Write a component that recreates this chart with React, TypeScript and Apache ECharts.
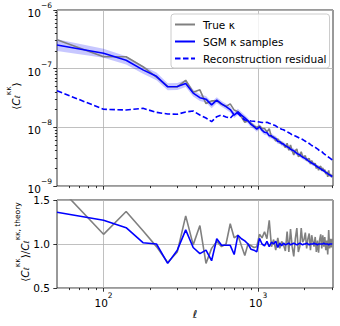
import React, { useEffect, useRef } from 'react';
import * as echarts from 'echarts';

const FONT = "'DejaVu Sans', sans-serif";

// multipole bins
const ell = [
  50, 100, 140, 180, 220, 260, 300, 340, 380, 420, 460, 500, 540, 580, 620, 660, 700, 740, 780, 820,
  860, 900, 940, 980, 1020, 1060, 1100, 1140, 1180, 1220, 1260, 1300, 1340, 1380, 1420, 1460, 1500,
  1540, 1580, 1620, 1660, 1700, 1740, 1780, 1820, 1860, 1900, 1940, 1980, 2020, 2060, 2100, 2140,
  2180, 2220, 2260, 2300, 2340, 2380, 2420, 2460, 2500, 2540, 2580, 2620, 2660, 2700, 2740, 2780,
  2820, 2860, 2900, 2940, 2980, 3020,
];

// top panel: power spectra
const trueCl = [
  3.11e-7, 1.6e-7, 1.6e-7, 1.08e-7, 7.18e-8,
  4.98e-8, 4.87e-8, 6.34e-8, 3.96e-8, 4.36e-8,
  2.54e-8, 2.82e-8, 2.82e-8, 2.47e-8, 2.28e-8,
  2.51e-8, 1.97e-8, 1.84e-8, 1.5e-8, 1.22e-8,
  1.29e-8, 1.17e-8, 1.06e-8, 9.95e-9, 1.06e-8,
  9.58e-9, 9.56e-9, 8.36e-9, 9.44e-9, 6.8e-9,
  6.96e-9, 5.84e-9, 6.38e-9, 5.38e-9, 5.55e-9,
  5.08e-9, 4.51e-9, 5.34e-9, 4.07e-9, 5.01e-9,
  3.98e-9, 3.39e-9, 4.01e-9, 4.28e-9, 3.18e-9,
  3.27e-9, 3.82e-9, 3.19e-9, 3.17e-9, 3.3e-9,
  2.68e-9, 2.88e-9, 2.96e-9, 2.37e-9, 2.72e-9,
  2.47e-9, 2.26e-9, 2.44e-9, 1.99e-9, 2.22e-9,
  1.86e-9, 2.11e-9, 2.18e-9, 1.81e-9, 2.04e-9,
  1.76e-9, 1.9e-9, 1.59e-9, 1.74e-9, 1.43e-9,
  1.84e-9, 1.47e-9, 1.61e-9, 1.42e-9, 1.54e-9,
];

const sgmCl = [
  2.53e-7, 1.83e-7, 1.39e-7, 9.54e-8, 7.4e-8,
  4.91e-8, 4.98e-8, 5.57e-8, 3.84e-8, 3.2e-8,
  3.02e-8, 2.41e-8, 2.9e-8, 2.51e-8, 2.25e-8,
  2.01e-8, 1.62e-8, 1.84e-8, 1.62e-8, 1.45e-8,
  1.29e-8, 1.12e-8, 1.03e-8, 9.34e-9, 1.02e-8,
  8.95e-9, 8.22e-9, 8.13e-9, 7.21e-9, 7.15e-9,
  6.63e-9, 6.47e-9, 5.72e-9, 5.72e-9, 5.28e-9,
  5.18e-9, 4.85e-9, 4.68e-9, 4.51e-9, 4.24e-9,
  4.1e-9, 3.98e-9, 3.78e-9, 3.59e-9, 3.49e-9,
  3.4e-9, 3.24e-9, 3.1e-9, 3.02e-9, 2.92e-9,
  2.85e-9, 2.72e-9, 2.61e-9, 2.55e-9, 2.47e-9,
  2.4e-9, 2.35e-9, 2.26e-9, 2.19e-9, 2.11e-9,
  2.07e-9, 2.01e-9, 1.96e-9, 1.91e-9, 1.85e-9,
  1.83e-9, 1.76e-9, 1.71e-9, 1.67e-9, 1.63e-9,
  1.57e-9, 1.55e-9, 1.52e-9, 1.48e-9, 1.45e-9,
];

// half-width of the SGM sample band, in decades
const sgmSpreadDex = [
  0.1, 0.075, 0.07, 0.065, 0.065,
  0.06, 0.06, 0.06, 0.06, 0.055,
  0.055, 0.055, 0.05, 0.05, 0.05,
  0.05, 0.05, 0.05, 0.05, 0.048,
  0.048, 0.047, 0.047, 0.046, 0.046,
  0.045, 0.045, 0.044, 0.044, 0.043,
  0.043, 0.042, 0.042, 0.041, 0.041,
  0.04, 0.04, 0.04, 0.039, 0.039,
  0.038, 0.038, 0.038, 0.037, 0.037,
  0.036, 0.036, 0.036, 0.035, 0.035,
  0.035, 0.034, 0.034, 0.034, 0.033,
  0.033, 0.033, 0.032, 0.032, 0.032,
  0.032, 0.031, 0.031, 0.031, 0.031,
  0.03, 0.03, 0.03, 0.03, 0.03,
  0.03, 0.029, 0.029, 0.029, 0.029,
];

const residualCl = [
  4.21e-8, 2.03e-8, 1.975e-8, 2.11e-8, 1.8e-8,
  1.69e-8, 1.67e-8, 1.83e-8, 1.9e-8, 1.62e-8,
  1.44e-8, 1.25e-8, 1.52e-8, 1.62e-8, 1.5e-8,
  1.43e-8, 1.69e-8, 1.73e-8, 1.5e-8, 1.33e-8,
  1.31e-8, 1.28e-8, 1.27e-8, 1.25e-8, 1.23e-8,
  1.21e-8, 1.2e-8, 1.22e-8, 1.17e-8, 1.14e-8,
  1.1e-8, 1.06e-8, 1.0e-8, 9.6e-9, 9.3e-9,
  9.1e-9, 8.7e-9, 8.4e-9, 8.1e-9, 7.8e-9,
  7.4e-9, 7.3e-9, 7.1e-9, 6.9e-9, 6.7e-9,
  6.5e-9, 6.4e-9, 6.2e-9, 6.0e-9, 5.8e-9,
  5.6e-9, 5.5e-9, 5.3e-9, 5.1e-9, 4.9e-9,
  4.8e-9, 4.7e-9, 4.6e-9, 4.4e-9, 4.3e-9,
  4.1e-9, 4.0e-9, 3.9e-9, 3.85e-9, 3.7e-9,
  3.55e-9, 3.45e-9, 3.35e-9, 3.25e-9, 3.18e-9,
  3.09e-9, 3.01e-9, 2.93e-9, 2.86e-9, 2.79e-9,
];

// bottom panel: ratios to theory
const ratioTrue = [
  1.67, 1.11, 1.37, 1.15, 0.97,
  0.79, 0.91, 1.32, 0.99, 1.21,
  0.78, 0.95, 1.03, 0.97, 1.0,
  1.23, 1.07, 1.1, 0.98, 0.87,
  1.0, 0.98, 0.96, 0.97, 1.11,
  1.07, 1.14, 1.06, 1.27, 0.97,
  1.05, 0.93, 1.07, 0.95, 1.03,
  0.99, 0.92, 1.14, 0.91, 1.17,
  0.97, 0.86, 1.06, 1.18, 0.91,
  0.97, 1.18, 1.02, 1.05, 1.13,
  0.95, 1.06, 1.12, 0.93, 1.1,
  1.03, 0.97, 1.08, 0.91, 1.04,
  0.9, 1.05, 1.11, 0.95, 1.1,
  0.97, 1.08, 0.93, 1.04, 0.88,
  1.16, 0.95, 1.06, 0.96, 1.06,
];

const ratioSgm = [
  1.36, 1.27, 1.185, 1.015, 1.0,
  0.78, 0.93, 1.16, 0.96, 0.89,
  0.93, 0.81, 1.06, 0.985, 0.985,
  0.985, 0.88, 1.1, 1.06, 1.035,
  1.0, 0.94, 0.93, 0.91, 1.065,
  1.0, 0.98, 1.03, 0.97, 1.02,
  1.0, 1.03, 0.96, 1.01, 0.98,
  1.01, 0.99, 1.0, 1.01, 0.99,
  1.0, 1.01, 1.0, 0.99, 1.0,
  1.01, 1.0, 0.99, 1.0, 1.0,
  1.01, 1.0, 0.99, 1.0, 1.0,
  1.0, 1.01, 1.0, 1.0, 0.99,
  1.0, 1.0, 1.0, 1.0, 1.0,
  1.01, 1.0, 1.0, 1.0, 1.0,
  0.99, 1.0, 1.0, 1.0, 1.0,
];

const xMajorTicks = [100, 1000];
const xMinorTicks = [60, 70, 80, 90, 200, 300, 400, 500, 600, 700, 800, 900, 2000, 3000];
const yMajorTicks = [1e-9, 1e-8, 1e-7, 1e-6];
const yMinorTicks = [
  2e-9, 3e-9, 4e-9, 5e-9, 6e-9, 7e-9, 8e-9, 9e-9,
  2e-8, 3e-8, 4e-8, 5e-8, 6e-8, 7e-8, 8e-8, 9e-8,
  2e-7, 3e-7, 4e-7, 5e-7, 6e-7, 7e-7, 8e-7, 9e-7,
];
const legendNames = ['True κ', 'SGM κ samples', 'Reconstruction residual'];
const topYLabel = '{a|⟨}{i|C}{sub|ℓ}{sup|κκ}{a|⟩}';
const bottomYLabel = '{a|⟨}{i|C}{sub|ℓ}{sup|κκ}{a|⟩/}{i|C}{sub|ℓ}{sup|κκ, theory}';

const BLUE = '#0000ff';
const GREY = '#808080';
const GRIDC = '#b0b0b0';
const tickLine = { color: '#000', width: 0.8 };
const splitStyle = { show: true, lineStyle: { color: GRIDC, width: 0.8 } };

function powLabel(v: number) {
  const e = Math.round(Math.log10(v));
  const s = e < 0 ? '−' + Math.abs(e) : String(e);
  return '{b|10}{s|' + s + '}';
}
const powRich = {
  b: { fontFamily: FONT, fontSize: 10.5, color: '#000', lineHeight: 17, verticalAlign: 'bottom' },
  s: { fontFamily: FONT, fontSize: 7.5, color: '#000', lineHeight: 8, verticalAlign: 'top' },
};
const nameRich = {
  a: { fontFamily: FONT, fontSize: 10.5, fill: '#000', lineHeight: 17, verticalAlign: 'bottom' },
  i: { fontFamily: FONT, fontSize: 10.5, fontStyle: 'italic', fill: '#000', lineHeight: 17, verticalAlign: 'bottom' },
  sub: { fontFamily: FONT, fontSize: 7.5, fontStyle: 'italic', fill: '#000', lineHeight: 12, verticalAlign: 'bottom' },
  sup: { fontFamily: FONT, fontSize: 7.5, fill: '#000', lineHeight: 8, verticalAlign: 'top' },
};

function xAxisPair(gridIndex: number, withLabels: boolean) {
  return [
    {
      gridIndex, type: 'log', logBase: 10, min: 50, max: 3050, position: 'bottom',
      axisLine: { show: false, onZero: false },
      axisTick: { show: true, customValues: xMajorTicks, length: 3.7, lineStyle: tickLine },
      axisLabel: withLabels
        ? { show: true, customValues: xMajorTicks, formatter: powLabel, rich: powRich, margin: 3 }
        : { show: false },
      splitLine: splitStyle,
      ...(withLabels
        ? {
            name: 'ℓ', nameLocation: 'middle', nameGap: 19,
            nameTextStyle: { fontFamily: FONT, fontSize: 11, fontStyle: 'italic', color: '#000' },
          }
        : {}),
    },
    {
      gridIndex, type: 'log', logBase: 10, min: 50, max: 3050, position: 'bottom',
      axisLine: { show: false, onZero: false },
      axisTick: { show: true, customValues: xMinorTicks, length: 2.1, lineStyle: tickLine },
      axisLabel: { show: false },
      splitLine: { show: false },
    },
  ];
}

const option: any = {
  animation: false,
  textStyle: { fontFamily: FONT },
  grid: [
    { left: 57, top: 10, width: 276, height: 176, show: true, borderColor: '#000', borderWidth: 0.8, outerBoundsMode: 'none' },
    { left: 57, top: 200, width: 276, height: 88, show: true, borderColor: '#000', borderWidth: 0.8, outerBoundsMode: 'none' },
  ],
  graphic: [
    {
      type: 'text', x: 13, y: 96, rotation: Math.PI / 2, silent: true,
      style: { text: topYLabel, rich: nameRich, align: 'center', verticalAlign: 'middle' },
    },
    {
      type: 'text', x: 21.5, y: 242, rotation: Math.PI / 2, silent: true,
      style: { text: bottomYLabel, rich: nameRich, align: 'center', verticalAlign: 'middle' },
    },
  ],
  xAxis: [...xAxisPair(0, false), ...xAxisPair(1, true)],
  yAxis: [
    {
      gridIndex: 0, type: 'log', logBase: 10, min: 1e-9, max: 1e-6, position: 'left',
      axisLine: { show: false, onZero: false },
      axisTick: { show: true, customValues: yMajorTicks, length: 3.7, lineStyle: tickLine },
      axisLabel: { customValues: yMajorTicks, formatter: powLabel, rich: powRich, margin: 5 },
      splitLine: splitStyle,
    },
    {
      gridIndex: 0, type: 'log', logBase: 10, min: 1e-9, max: 1e-6, position: 'left',
      axisLine: { show: false, onZero: false },
      axisTick: { show: true, customValues: yMinorTicks, length: 2.1, lineStyle: tickLine },
      axisLabel: { show: false },
      splitLine: { show: false },
    },
    {
      gridIndex: 1, type: 'value', min: 0.5, max: 1.5, interval: 0.5, position: 'left',
      axisLine: { show: false, onZero: false },
      axisTick: { show: true, length: 3.7, lineStyle: tickLine },
      axisLabel: { formatter: (v: number) => v.toFixed(1), fontFamily: FONT, fontSize: 10.5, color: '#000', margin: 7 },
      splitLine: splitStyle,
    },
  ],
  legend: {
    orient: 'vertical', left: 171, top: 14,
    data: legendNames,
    itemWidth: 20, itemHeight: 10, itemGap: 6,
    padding: [5, 3, 4, 3],
    backgroundColor: 'rgba(255,255,255,0.8)',
    borderColor: '#cccccc', borderWidth: 1, borderRadius: 3,
    selectedMode: false,
    itemStyle: { opacity: 0 },
    textStyle: { fontFamily: FONT, fontSize: 10.5, color: '#000', padding: [0, 0, 0, 3] },
  },
  series: [
    {
      name: legendNames[0], type: 'line', xAxisIndex: 0, yAxisIndex: 0,
      data: ell.map((l, i) => [l, trueCl[i]]),
      symbol: 'none', showSymbol: false,
      lineStyle: { color: GREY, width: 1.6 }, itemStyle: { color: GREY },
    },
    {
      type: 'custom', xAxisIndex: 0, yAxisIndex: 0, silent: true, clip: true,
      data: ell.map((l, i) => [l, sgmCl[i]]),
      renderItem: (params: any, api: any) => {
        if (params.dataIndex !== 0) return null;
        const upper = ell.map((l, i) => api.coord([l, sgmCl[i] * Math.pow(10, sgmSpreadDex[i])]));
        const lower = ell.map((l, i) => api.coord([l, sgmCl[i] / Math.pow(10, sgmSpreadDex[i])])).reverse();
        return {
          type: 'polygon',
          shape: { points: upper.concat(lower) },
          style: { fill: 'rgba(0,0,255,0.22)', stroke: 'none' },
        };
      },
    },
    {
      name: legendNames[1], type: 'line', xAxisIndex: 0, yAxisIndex: 0,
      data: ell.map((l, i) => [l, sgmCl[i]]),
      symbol: 'none', showSymbol: false,
      lineStyle: { color: BLUE, width: 1.6 }, itemStyle: { color: BLUE },
    },
    {
      name: legendNames[2], type: 'line', xAxisIndex: 0, yAxisIndex: 0,
      data: ell.map((l, i) => [l, residualCl[i]]),
      symbol: 'none', showSymbol: false,
      lineStyle: { color: BLUE, width: 1.6, type: [5.5, 2.5] }, itemStyle: { color: BLUE },
    },
    {
      name: legendNames[0], type: 'line', xAxisIndex: 2, yAxisIndex: 2,
      data: ell.map((l, i) => [l, ratioTrue[i]]),
      symbol: 'none', showSymbol: false,
      lineStyle: { color: GREY, width: 1.6 }, itemStyle: { color: GREY },
    },
    {
      name: legendNames[1], type: 'line', xAxisIndex: 2, yAxisIndex: 2,
      data: ell.map((l, i) => [l, ratioSgm[i]]),
      symbol: 'none', showSymbol: false,
      lineStyle: { color: BLUE, width: 1.6 }, itemStyle: { color: BLUE },
    },
  ],
};

export default function App() {
  const ref = useRef<HTMLDivElement>(null);
  useEffect(() => {
    const chart = echarts.init(ref.current as HTMLDivElement, null, { renderer: 'svg' });
    chart.setOption(option);
    return () => chart.dispose();
  }, []);
  return (
    <div
      ref={ref}
      style={{ position: 'absolute', left: 0, top: 0, width: 340, height: 326, background: '#fff' }}
    />
  );
}
